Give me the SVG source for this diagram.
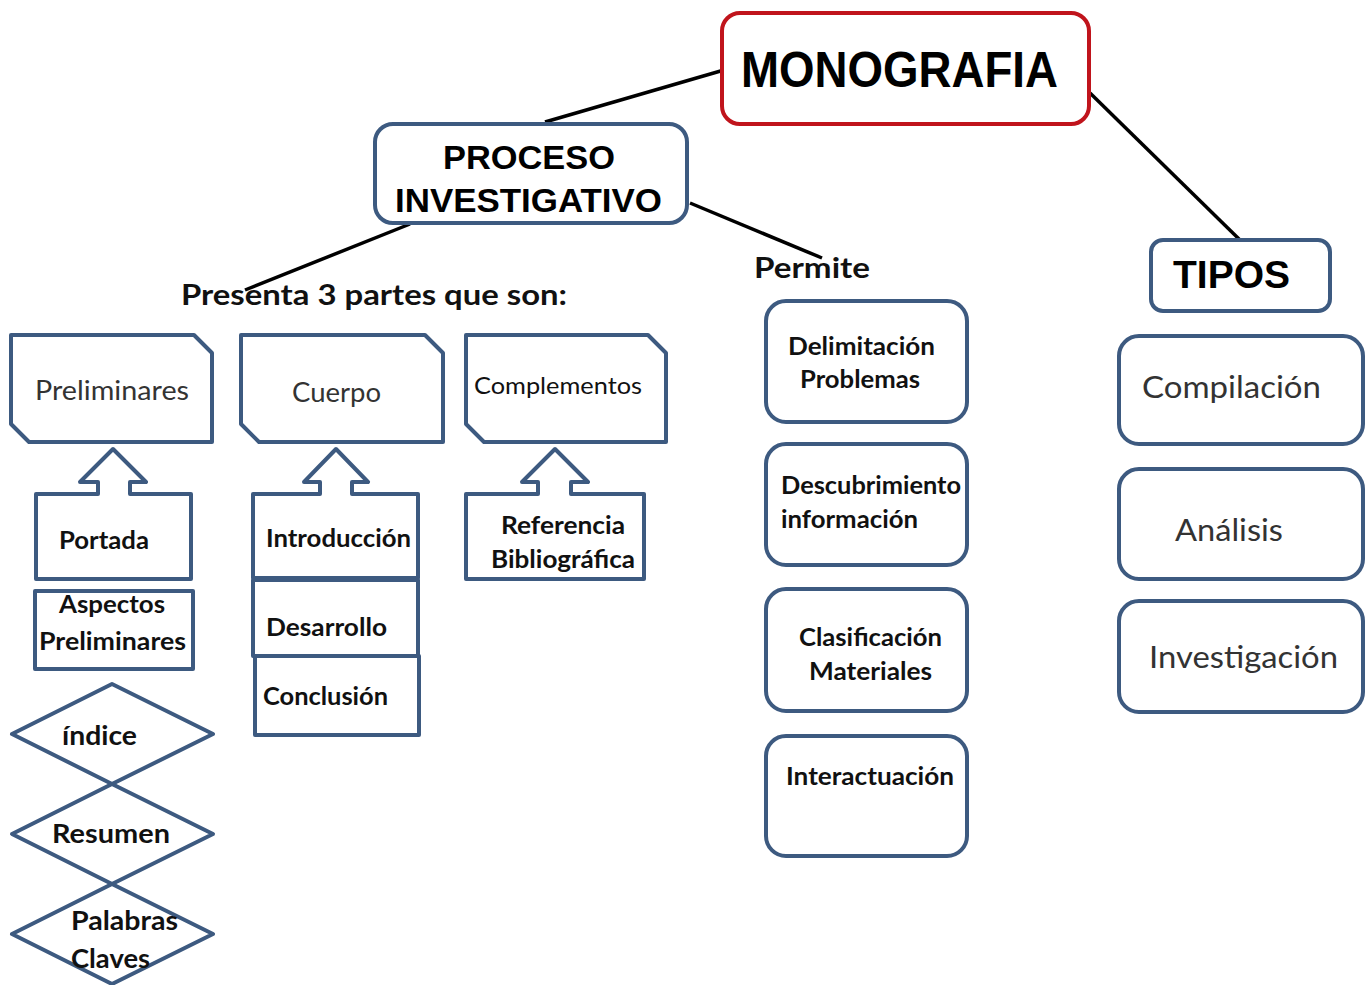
<svg xmlns="http://www.w3.org/2000/svg" width="1370" height="985" viewBox="0 0 1370 985">
<style>
.bx{fill:#fff;stroke:#3d5a80;stroke-width:4;stroke-linejoin:round}
.red{fill:#fff;stroke:#c0141c;stroke-width:4}
.cn{stroke:#000;stroke-width:3.5;fill:none}
.t{font-family:Lato,"Liberation Sans",sans-serif;fill:#111}
.b{font-weight:bold}
.ar{font-family:"Liberation Sans",Arial,sans-serif;fill:#000;font-weight:bold}
.g{fill:#333}
</style>
<rect width="1370" height="985" fill="#fff"/>
<g id="connectors">
<line class="cn" x1="724" y1="70" x2="545" y2="122"/>
<line class="cn" x1="410" y1="224" x2="245" y2="290"/>
<line class="cn" x1="690" y1="203" x2="822" y2="258"/>
<line class="cn" x1="1090" y1="93" x2="1240" y2="240"/>
</g>
<g id="monografia">
<rect class="red" x="722" y="13" width="367" height="111" rx="18"/>
<text class="ar" x="741" y="87" font-size="50" textLength="317" lengthAdjust="spacingAndGlyphs">MONOGRAFIA</text>
</g>
<g id="proceso">
<rect class="bx" x="375" y="124" width="312" height="99" rx="18"/>
<text class="ar" x="529" y="169" font-size="34" text-anchor="middle" textLength="172" lengthAdjust="spacingAndGlyphs">PROCESO</text>
<text class="ar" x="395" y="212" font-size="34" textLength="267" lengthAdjust="spacingAndGlyphs">INVESTIGATIVO</text>
</g>
<g id="presenta">
<text class="t b" x="181" y="305" font-size="28" textLength="386" lengthAdjust="spacingAndGlyphs">Presenta 3 partes que son:</text>
</g>
<g id="permite">
<text class="t b" x="754" y="278" font-size="28" textLength="116" lengthAdjust="spacingAndGlyphs">Permite</text>
</g>
<g id="tipos">
<rect class="bx" x="1151" y="240" width="179" height="71" rx="12"/>
<text class="ar" x="1173" y="288" font-size="39" textLength="117" lengthAdjust="spacingAndGlyphs">TIPOS</text>
</g>
<g id="preliminares">
<path class="bx" d="M11,335 L194,335 L212,353 L212,442 L29,442 L11,424 Z"/>
<text class="t g" x="35" y="400" font-size="26" textLength="154" lengthAdjust="spacingAndGlyphs">Preliminares</text>
</g>
<g id="cuerpo">
<path class="bx" d="M241,335 L425,335 L443,353 L443,442 L259,442 L241,424 Z"/>
<text class="t g" x="292" y="402" font-size="26" textLength="89" lengthAdjust="spacingAndGlyphs">Cuerpo</text>
</g>
<g id="complementos">
<path class="bx" d="M466,335 L648,335 L666,353 L666,442 L484,442 L466,424 Z"/>
<text class="t" x="474" y="394" font-size="24" textLength="168" lengthAdjust="spacingAndGlyphs">Complementos</text>
</g>
<g id="portada">
<path class="bx" d="M36,494 L98,494 L98,482 L80,482 L113,449 L146,482 L130,482 L130,494 L191,494 L191,579 L36,579 Z"/>
<text class="t b" x="59" y="549" font-size="24" textLength="90" lengthAdjust="spacingAndGlyphs">Portada</text>
</g>
<g id="aspectos">
<rect class="bx" x="35" y="591" width="158" height="78"/>
<text class="t b" x="112" y="613" font-size="24" text-anchor="middle" textLength="106" lengthAdjust="spacingAndGlyphs">Aspectos</text>
<text class="t b" x="39" y="650" font-size="24" textLength="147" lengthAdjust="spacingAndGlyphs">Preliminares</text>
</g>
<g id="indice">
<path class="bx" d="M112,684 L213,734 L112,784 L12,734 Z"/>
<text class="t b" x="62" y="745" font-size="26" textLength="75" lengthAdjust="spacingAndGlyphs">índice</text>
</g>
<g id="resumen">
<path class="bx" d="M112,784 L213,834 L112,884 L12,834 Z"/>
<text class="t b" x="52" y="843" font-size="26" textLength="118" lengthAdjust="spacingAndGlyphs">Resumen</text>
</g>
<g id="palabras">
<path class="bx" d="M112,884 L213,934 L112,984 L12,934 Z"/>
<text class="t b" x="71" y="930" font-size="26" textLength="107" lengthAdjust="spacingAndGlyphs">Palabras</text>
<text class="t b" x="71" y="968" font-size="26" textLength="79" lengthAdjust="spacingAndGlyphs">Claves</text>
</g>
<g id="introduccion">
<path class="bx" d="M253,494 L320,494 L320,482 L304,482 L336,449 L368,482 L352,482 L352,494 L418,494 L418,578 L253,578 Z"/>
<text class="t b" x="266" y="547" font-size="24" textLength="145" lengthAdjust="spacingAndGlyphs">Introducción</text>
</g>
<g id="desarrollo">
<rect class="bx" x="253" y="580" width="165" height="76"/>
<text class="t b" x="266" y="636" font-size="24" textLength="121" lengthAdjust="spacingAndGlyphs">Desarrollo</text>
</g>
<g id="conclusion">
<rect class="bx" x="255" y="656" width="164" height="79"/>
<text class="t b" x="263" y="705" font-size="24" textLength="125" lengthAdjust="spacingAndGlyphs">Conclusión</text>
</g>
<g id="referencia">
<path class="bx" d="M466,494 L538,494 L538,482 L522,482 L555,449 L588,482 L571,482 L571,494 L644,494 L644,579 L466,579 Z"/>
<text class="t b" x="563" y="534" font-size="24" text-anchor="middle" textLength="124" lengthAdjust="spacingAndGlyphs">Referencia</text>
<text class="t b" x="491" y="568" font-size="24" textLength="144" lengthAdjust="spacingAndGlyphs">Bibliográfica</text>
</g>
<g id="delimitacion">
<rect class="bx" x="766" y="301" width="201" height="121" rx="20"/>
<text class="t b" x="788" y="355" font-size="24" textLength="147" lengthAdjust="spacingAndGlyphs">Delimitación</text>
<text class="t b" x="800" y="388" font-size="24" textLength="120" lengthAdjust="spacingAndGlyphs">Problemas</text>
</g>
<g id="descubrimiento">
<rect class="bx" x="766" y="444" width="201" height="121" rx="20"/>
<text class="t b" x="781" y="494" font-size="24" textLength="180" lengthAdjust="spacingAndGlyphs">Descubrimiento</text>
<text class="t b" x="781" y="528" font-size="24" textLength="137" lengthAdjust="spacingAndGlyphs">información</text>
</g>
<g id="clasificacion">
<rect class="bx" x="766" y="589" width="201" height="122" rx="20"/>
<text class="t b" x="799" y="646" font-size="24" textLength="143" lengthAdjust="spacingAndGlyphs">Clasificación</text>
<text class="t b" x="809" y="680" font-size="24" textLength="123" lengthAdjust="spacingAndGlyphs">Materiales</text>
</g>
<g id="interactuacion">
<rect class="bx" x="766" y="736" width="201" height="120" rx="20"/>
<text class="t b" x="786" y="785" font-size="24" textLength="168" lengthAdjust="spacingAndGlyphs">Interactuación</text>
</g>
<g id="compilacion">
<rect class="bx" x="1119" y="336" width="244" height="108" rx="20"/>
<text class="t g" x="1142" y="398" font-size="30" textLength="179" lengthAdjust="spacingAndGlyphs">Compilación</text>
</g>
<g id="analisis">
<rect class="bx" x="1119" y="469" width="244" height="110" rx="20"/>
<text class="t g" x="1175" y="541" font-size="30" textLength="108" lengthAdjust="spacingAndGlyphs">Análisis</text>
</g>
<g id="investigacion">
<rect class="bx" x="1119" y="601" width="244" height="111" rx="20"/>
<text class="t g" x="1149" y="668" font-size="30" textLength="189" lengthAdjust="spacingAndGlyphs">Investigación</text>
</g>
</svg>
